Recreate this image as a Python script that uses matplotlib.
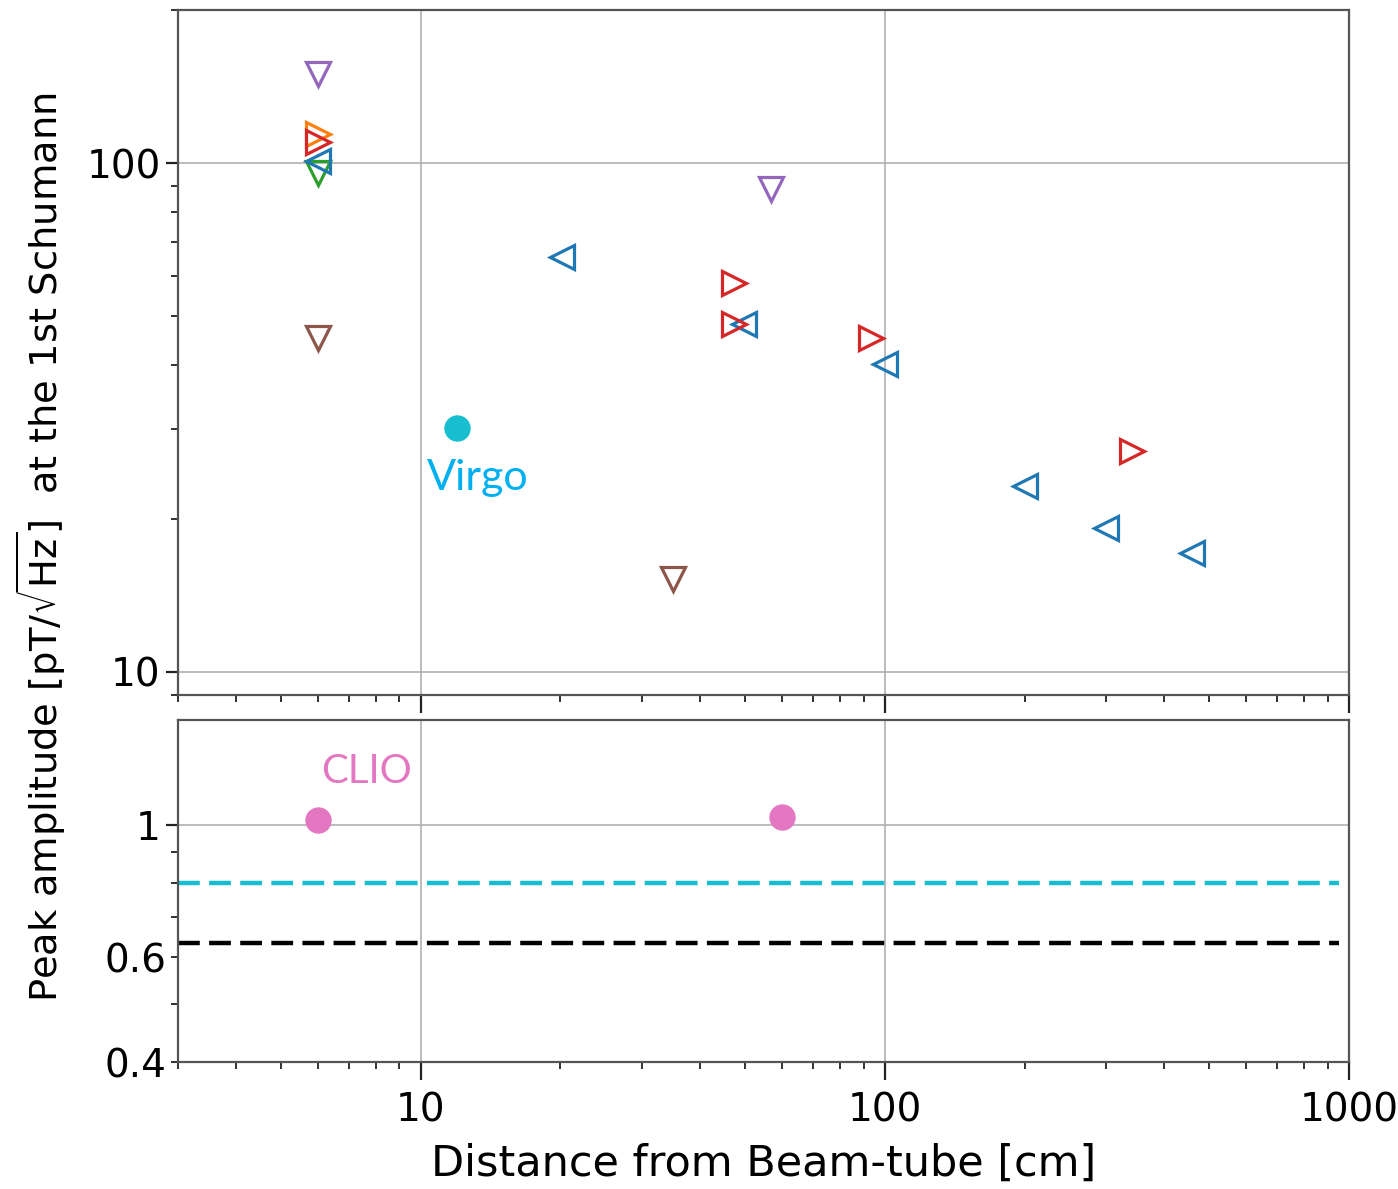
import matplotlib
matplotlib.use("Agg")
import matplotlib.pyplot as plt
from matplotlib.ticker import FixedLocator, FixedFormatter, NullFormatter, LogLocator

# Top panel: peak amplitude vs distance, one list per marker group
blue_left_x = [6.0, 20.2, 49.8, 100, 200, 299, 459]
blue_left_y = [101, 65.3, 48.3, 40.3, 23.2, 19.2, 17.1]
orange_right_x = [6.0]
orange_right_y = [114]
green_down_x = [6.0]
green_down_y = [95.6]
red_right_x = [6.0, 47.3, 47.3, 93.3, 340]
red_right_y = [110, 58.1, 48.3, 45.3, 27.2]
purple_down_x = [6.0, 56.9]
purple_down_y = [150, 89]
brown_down_x = [6.0, 35.0]
brown_down_y = [45.3, 15.2]
virgo_x = [12.0]
virgo_y = [30.1]

# Bottom panel
clio_x = [6.0, 60.0]
clio_y = [1.02, 1.03]
cyan_level = 0.80
black_level = 0.633

xlim = (3, 1000)

fig = plt.figure(figsize=(13.98, 11.89), dpi=100)
ax1 = fig.add_axes([0.1273, 0.4155, 0.8377, 0.5761])
ax2 = fig.add_axes([0.1273, 0.1068, 0.8377, 0.2876])

spine_col = "#555555"
tick_fs = 28


def style(ax):
    ax.set_xscale("log")
    ax.set_yscale("log")
    ax.set_xlim(*xlim)
    for s in ax.spines.values():
        s.set_color(spine_col)
        s.set_linewidth(1.6)
    ax.tick_params(which="major", length=9, width=1.6, labelsize=tick_fs, color="#222222")
    ax.tick_params(which="minor", length=5, width=1.3, labelsize=tick_fs, color="#222222")
    ax.grid(True, which="major", color="#b0b0b0", linewidth=1.2)
    ax.set_axisbelow(True)
    ax.xaxis.set_major_locator(FixedLocator([10, 100, 1000]))
    ax.xaxis.set_minor_locator(LogLocator(base=10, subs=range(2, 10)))
    ax.xaxis.set_minor_formatter(NullFormatter())


style(ax1)
style(ax2)

ms = 17
mew = 2.3
kw = dict(linestyle="none", markersize=ms, markeredgewidth=mew, fillstyle="none")
ax1.plot(purple_down_x, purple_down_y, "v", color="tab:purple", **kw)
ax1.plot(brown_down_x, brown_down_y, "v", color="tab:brown", **kw)
ax1.plot(green_down_x, green_down_y, "v", color="tab:green", **kw)
ax1.plot(orange_right_x, orange_right_y, ">", color="tab:orange", **kw)
ax1.plot(blue_left_x, blue_left_y, "<", color="tab:blue", **kw)
ax1.plot(red_right_x, red_right_y, ">", color="tab:red", **kw)
ax1.plot(virgo_x, virgo_y, "o", color="tab:cyan", markersize=18, linestyle="none")

ax1.set_ylim(9, 200)
ax1.yaxis.set_major_locator(FixedLocator([10, 100]))
ax1.yaxis.set_major_formatter(FixedFormatter(["10", "100"]))
ax1.yaxis.set_minor_locator(LogLocator(base=10, subs=range(2, 10)))
ax1.yaxis.set_minor_formatter(NullFormatter())
ax1.tick_params(axis="x", labelbottom=False)
ax1.tick_params(axis="x", which="major", length=13)

ax1.text(virgo_x[0] * 1.105, virgo_y[0] * 0.8, "Virgo", color="#00b0f0",
         fontsize=31, family="Lato", ha="center", va="center")

ax2.plot(clio_x, clio_y, "o", color="tab:pink", markersize=18, linestyle="none")
ax2.hlines(cyan_level, xlim[0], 950, colors="tab:cyan", linewidth=3.2,
           linestyles=(0, (4.9, 2.1)))
ax2.hlines(black_level, xlim[0], 950, colors="black", linewidth=3.2,
           linestyles=(0, (4.9, 2.1)))
ax2.set_ylim(0.4, 1.5)
ax2.yaxis.set_major_locator(FixedLocator([1]))
ax2.yaxis.set_major_formatter(FixedFormatter(["1"]))
ax2.yaxis.set_minor_locator(FixedLocator([0.4, 0.5, 0.6, 0.7, 0.8, 0.9]))
ax2.yaxis.set_minor_formatter(FixedFormatter(["0.4", "", "0.6", "", "", ""]))
ax2.xaxis.set_major_formatter(FixedFormatter(["10", "100", "1000"]))
ax2.tick_params(axis="x", which="major", length=13, pad=8)

ax2.text(clio_x[0] * 1.277, 1.228, "CLIO", color="#e377c2",
         fontsize=29, family="Lato", ha="center", va="center")

ax2.set_xlabel("Distance from Beam-tube [cm]", fontsize=31, labelpad=10)
fig.text(0.029, 0.540, r"Peak amplitude [pT/$\sqrt{\rm Hz}$]  at the 1st Schumann",
         rotation=90, fontsize=27.7, ha="center", va="center")

fig.savefig("out.png", dpi=100)
